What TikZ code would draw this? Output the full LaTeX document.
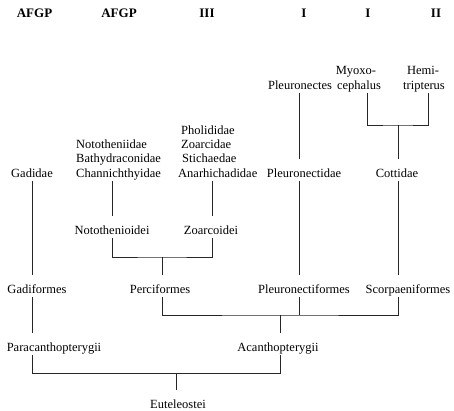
\documentclass[tikz,border=0pt]{standalone}
\usepackage{fontspec}
\setmainfont{Liberation Serif}
\begin{document}
\begin{tikzpicture}[x=1pt,y=-1pt,
  lbl/.style={font=\fontsize{12.5}{15}\selectfont, inner sep=1pt, text height=17pt, text depth=3pt, anchor=base},
  lblw/.style={lbl, anchor=base west},
  hdr/.style={font=\fontsize{13}{15}\selectfont\bfseries, inner sep=0pt, anchor=base},
  br/.style={line width=0.8pt, draw=black!85}]
\useasboundingbox (0,0) rectangle (454,410);
% headers
\node[hdr] (h1) at (34.5,17) {AFGP};
\node[hdr] (h2) at (119,17) {AFGP};
\node[hdr] (h3) at (207,17) {III};
\node[hdr] (h4) at (304,17) {I};
\node[hdr] (h5) at (368,17) {I};
\node[hdr] (h6) at (436,17) {II};
% top taxa
\node[lbl] (myo1) at (356,74) {Myoxo-};
\node[lbl] (myo) at (359,89) {cephalus};
\node[lbl] (hem1) at (423,74) {Hemi-};
\node[lbl] (hem) at (424,89) {tripterus};
\node[lbl] (ple) at (300,89) {Pleuronectes};
% families
\node[lblw] (not1) at (75,148) {Nototheniidae};
\node[lblw] (not2) at (75,162) {Bathydraconidae};
\node[lblw] (cha) at (75,177) {Channichthyidae};
\node[lblw] (pho) at (180,134) {Pholididae};
\node[lblw] (zoa) at (180,148) {Zoarcidae};
\node[lblw] (sti) at (181,162) {Stichaedae};
\node[lblw] (ana) at (177,177) {Anarhichadidae};
\node[lbl] (gad) at (32,177) {Gadidae};
\node[lbl] (pld) at (304,177) {Pleuronectidae};
\node[lbl] (cot) at (397,177) {Cottidae};
% suborders
\node[lbl] (ntoi) at (112,234) {Notothenioidei};
\node[lbl] (zoi) at (211,234) {Zoarcoidei};
% orders
\node[lbl] (gadf) at (37,293) {Gadiformes};
\node[lbl] (perc) at (160,293) {Perciformes};
\node[lbl] (plf) at (304,293) {Pleuronectiformes};
\node[lbl] (scor) at (408,293) {Scorpaeniformes};
% superorders
\node[lbl] (para) at (54,351) {Paracanthopterygii};
\node[lbl] (acan) at (278,351) {Acanthopterygii};
\node[lbl] (eut) at (178,408) {Euteleostei};
% x positions of the lines
\coordinate (xMyo) at (367,0);
\coordinate (xHem) at (428,0);
\coordinate (xCot) at (398,0);
\coordinate (xPl) at (299,0);
\coordinate (xGad) at (32,0);
\coordinate (xCha) at (112,0);
\coordinate (xAna) at (212,0);
% junctions
\coordinate (j1) at (398,125);
\coordinate (j2) at (162,257);
\coordinate (j3) at (280,315);
\coordinate (j4) at (176,373);
% connectors
\draw[br] (myo.south -| xMyo) |- (j1) -| (hem.south -| xHem);
\draw[br] (j1) -- (cot.north -| j1);
\draw[br] (ple.south -| xPl) -- (pld.north -| xPl);
\draw[br] (pld.south -| xPl) -- (plf.north -| xPl);
\draw[br] (cot.south -| xCot) -- (scor.north -| xCot);
\draw[br] (gad.south -| xGad) -- (gadf.north -| xGad);
\draw[br] (gadf.south -| xGad) -- (para.north -| xGad);
\draw[br] (cha.south -| xCha) -- (ntoi.north -| xCha);
\draw[br] (ana.south -| xAna) -- (zoi.north -| xAna);
\draw[br] (ntoi.south -| xCha) |- (j2) -| (zoi.south -| xAna);
\draw[br] (j2) -- (perc.north -| j2);
\draw[br] (perc.south -| j2) |- (j3) -| (scor.south -| xCot);
\draw[br] (plf.south -| xPl) -- (j3 -| xPl);
\draw[br] (j3) -- (acan.north -| j3);
\draw[br] (para.south -| xGad) |- (j4) -| (acan.south -| j3);
\draw[br] (j4) -- (eut.north -| j4);
\end{tikzpicture}
\end{document}
